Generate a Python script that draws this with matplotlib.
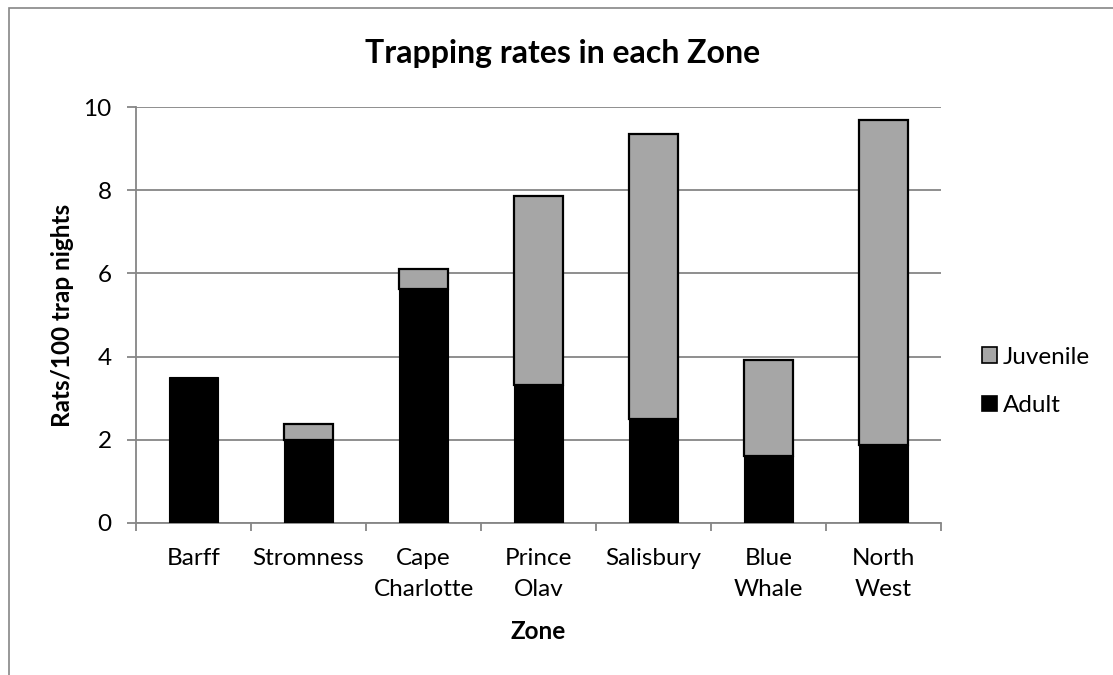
import numpy as np
import matplotlib.pyplot as plt
from matplotlib.patches import Rectangle

plt.rcParams['font.family'] = ['Lato', 'DejaVu Sans']

# Trapping rates (rats per 100 trap nights) for each zone
zones = ["Barff", "Stromness", "Cape\nCharlotte", "Prince\nOlav",
         "Salisbury", "Blue\nWhale", "North\nWest"]
adult = [3.50, 2.00, 5.62, 3.31, 2.49, 1.61, 1.88]
juvenile = [0.00, 0.38, 0.49, 4.55, 6.87, 2.31, 7.82]

grey_line = '#868686'
fs = 17.5

fig = plt.figure(figsize=(11.13, 6.75), dpi=100)
ax = fig.add_axes([0.1222, 0.2256, 0.7233, 0.6154])

x = np.arange(len(zones))
ax.bar(x, adult, width=0.42, color='black', edgecolor='black',
       linewidth=0.8, label='Adult', zorder=3)
ax.bar(x, juvenile, width=0.42, bottom=adult, color='#a6a6a6',
       edgecolor='black', linewidth=[0 if v == 0 else 1.6 for v in juvenile],
       label='Juvenile', zorder=3)

ax.set_xlim(-0.5, len(zones) - 0.5)
ax.set_ylim(0, 10)
ax.set_yticks(np.arange(0, 11, 2))
ax.yaxis.grid(True, color=grey_line, linewidth=1.3)
ax.set_axisbelow(True)

# category boundaries carry the x ticks, labels sit at the centres
ax.set_xticks(np.arange(-0.5, len(zones), 1.0))
ax.set_xticklabels([])
ax.set_xticks(x, minor=True)
ax.set_xticklabels(zones, minor=True, fontsize=fs, linespacing=1.62)
ax.tick_params(axis='x', which='minor', length=0, pad=18)
ax.tick_params(axis='x', which='major', length=6, width=1.3, color=grey_line)
ax.tick_params(axis='y', length=6.5, width=1.3, color=grey_line,
               labelsize=fs, pad=11)

for side in ['top', 'right']:
    ax.spines[side].set_visible(False)
for side in ['left', 'bottom']:
    ax.spines[side].set_color(grey_line)
    ax.spines[side].set_linewidth(1.3)

ax.set_xlabel("Zone", fontsize=fs, fontweight='bold', labelpad=14)
ax.set_ylabel("Rats/100 trap nights", fontsize=fs, fontweight='bold',
              labelpad=7)
fig.text(563 / 1113, 1 - 63 / 675, "Trapping rates in each Zone",
         ha='center', va='baseline', fontsize=23, fontweight='bold')

handles, labels = ax.get_legend_handles_labels()
leg = ax.legend(handles[::-1], labels[::-1], loc='center left',
                bbox_to_anchor=(1.036, 0.34), frameon=False, fontsize=fs,
                handlelength=0.62, handleheight=0.62, handletextpad=0.22,
                labelspacing=1.12, borderpad=0)
for h in leg.legend_handles:
    h.set_edgecolor('black')
    h.set_linewidth(1.2)

# outer chart border
fig.patches.append(Rectangle((9 / 1113, -0.1), 1.2, 1.1 - 8 / 675,
                             transform=fig.transFigure, fill=False,
                             edgecolor=grey_line, linewidth=1.2))

fig.savefig("out.png", dpi=100)
